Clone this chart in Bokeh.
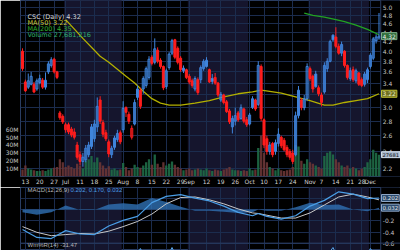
from bokeh.plotting import figure
from bokeh.layouts import column
from bokeh.models import Range1d, LinearScale, LinearAxis, FixedTicker, Label, ColumnDataSource, Span
from bokeh.embed import file_html
from bokeh.resources import INLINE

# ---------------- data ----------------
opens = [4.00, 3.42, 3.33, 3.38, 3.38, 3.30, 3.41, 3.45, 3.33, 3.60, 3.72, 3.84, 3.60,
         2.92, 2.87, 2.68, 2.75, 2.69, 2.65, 2.48, 2.36, 2.28, 2.30, 2.36, 2.46, 2.56, 2.72,
         3.12, 2.78, 2.64, 2.52, 2.36, 2.45, 2.55, 2.64, 2.68, 3.00, 2.90, 2.58, 2.76, 3.16,
         3.28, 3.30, 3.36, 3.50, 3.88, 3.78, 4.02, 3.82, 3.70, 3.34, 3.68, 3.96, 4.24, 4.06,
         3.86, 3.62, 3.64, 3.52, 3.44, 3.30, 3.46, 3.46, 3.66, 3.70, 3.64, 3.48, 3.50, 3.40,
         3.12, 3.20, 3.09, 2.95, 2.72, 2.80, 2.92, 2.84, 2.98, 2.82, 2.76, 3.00, 3.12, 3.05,
         3.70, 2.82, 2.56, 2.40, 2.50, 2.40, 2.50, 2.58, 2.54, 2.45, 2.40, 2.38, 2.36, 2.88,
         3.12, 3.00, 3.14, 3.66, 3.52, 3.56, 3.32, 3.08, 3.25, 3.66, 3.80, 4.34, 4.30, 4.10,
         3.96, 4.00, 3.72, 3.48, 3.64, 3.44, 3.58, 3.46, 3.38, 3.46, 3.70, 3.86, 4.22, 4.28]
highs = [4.06, 3.46, 3.57, 3.60, 3.42, 3.48, 3.55, 3.49, 3.59, 3.80, 3.88, 3.87, 3.62,
         2.95, 2.90, 2.78, 2.78, 2.72, 2.70, 2.52, 2.40, 2.38, 2.48, 2.52, 2.76, 2.82, 3.16,
         3.18, 2.82, 2.68, 2.55, 2.47, 2.60, 2.68, 2.67, 3.10, 3.02, 2.94, 2.74, 3.13, 3.36,
         3.32, 3.52, 3.70, 3.90, 3.92, 4.27, 4.08, 3.86, 3.72, 3.66, 3.98, 4.26, 4.26, 4.10,
         3.90, 3.72, 3.66, 3.56, 3.48, 3.52, 3.50, 3.72, 3.84, 3.88, 3.66, 3.56, 3.58, 3.42,
         3.25, 3.22, 3.12, 2.98, 2.88, 3.00, 2.95, 3.05, 3.00, 2.86, 2.92, 3.18, 3.14, 3.80,
         3.74, 2.84, 2.60, 2.52, 2.52, 2.55, 2.70, 2.60, 2.57, 2.48, 2.43, 2.42, 2.94, 3.35,
         3.15, 3.20, 3.76, 3.70, 3.55, 3.62, 3.36, 3.24, 3.78, 3.86, 4.24, 4.36, 4.52, 4.16,
         4.20, 4.02, 3.74, 3.68, 3.70, 3.66, 3.60, 3.50, 3.60, 3.68, 3.96, 4.30, 4.36, 4.86]
lows = [3.62, 3.25, 3.30, 3.36, 3.23, 3.27, 3.38, 3.30, 3.29, 3.56, 3.68, 3.57, 3.47,
        2.82, 2.76, 2.64, 2.62, 2.58, 2.55, 2.30, 2.24, 2.22, 2.27, 2.33, 2.43, 2.52, 2.65,
        2.76, 2.58, 2.53, 2.33, 2.32, 2.42, 2.52, 2.49, 2.64, 2.86, 2.76, 2.55, 2.74, 3.12,
        2.98, 3.22, 3.32, 3.46, 3.72, 3.74, 3.76, 3.66, 3.28, 3.30, 3.64, 3.92, 3.84, 3.74,
        3.60, 3.58, 3.47, 3.38, 3.32, 3.26, 3.20, 3.40, 3.62, 3.68, 3.40, 3.38, 3.37, 3.17,
        3.09, 3.05, 2.92, 2.76, 2.63, 2.74, 2.79, 2.82, 2.77, 2.72, 2.74, 2.98, 2.95, 3.02,
        2.80, 2.44, 2.36, 2.36, 2.33, 2.36, 2.46, 2.44, 2.40, 2.33, 2.30, 2.25, 2.34, 2.84,
        2.96, 2.96, 3.10, 3.44, 3.24, 3.32, 3.18, 3.02, 3.22, 3.60, 3.78, 4.20, 4.06, 3.93,
        3.90, 3.68, 3.46, 3.44, 3.42, 3.40, 3.35, 3.33, 3.34, 3.40, 3.66, 3.82, 4.16, 4.24]
closes = [3.66, 3.27, 3.44, 3.52, 3.25, 3.44, 3.48, 3.33, 3.45, 3.75, 3.83, 3.60, 3.50,
          2.85, 2.79, 2.75, 2.65, 2.61, 2.58, 2.33, 2.28, 2.33, 2.44, 2.48, 2.72, 2.76, 3.02,
          2.80, 2.62, 2.56, 2.37, 2.44, 2.57, 2.63, 2.52, 2.99, 2.93, 2.80, 2.70, 3.08, 3.30,
          3.02, 3.48, 3.66, 3.84, 3.76, 4.05, 3.80, 3.70, 3.32, 3.62, 3.94, 4.22, 3.88, 3.78,
          3.64, 3.67, 3.50, 3.42, 3.36, 3.48, 3.24, 3.68, 3.80, 3.82, 3.42, 3.43, 3.40, 3.20,
          3.21, 3.08, 2.94, 2.79, 2.84, 2.88, 2.82, 3.00, 2.80, 2.75, 2.89, 3.14, 2.98, 3.72,
          2.84, 2.48, 2.40, 2.48, 2.36, 2.51, 2.62, 2.47, 2.42, 2.36, 2.33, 2.28, 2.88, 3.28,
          3.00, 3.14, 3.70, 3.48, 3.30, 3.34, 3.22, 3.20, 3.72, 3.80, 4.20, 4.24, 4.10, 3.96,
          4.14, 3.72, 3.50, 3.62, 3.46, 3.62, 3.38, 3.36, 3.56, 3.64, 3.92, 4.26, 4.30, 4.32]
volumes_m = [9, 14, 10, 9, 8, 7, 7, 8, 7, 9, 10, 11, 12,
             22, 18, 12, 14, 12, 10, 16, 14, 10, 20, 22, 26, 18, 24,
             18, 14, 10, 13, 9, 10, 8, 9, 17, 12, 8, 10, 15, 12,
             11, 14, 18, 22, 15, 28, 16, 12, 18, 14, 16, 19, 15, 12, 10, 8, 9, 10, 8, 9,
             10, 9, 8, 10, 8, 7, 9, 8, 7, 9, 10, 12, 9, 8, 8, 7, 8, 7, 10, 8, 9,
             36, 52, 30, 18, 12, 10, 8, 10, 8, 7, 8, 9, 12, 40, 38, 20, 16, 22,
             18, 16, 14, 12, 10, 26, 30, 32, 28, 22, 18, 14, 12, 14, 10, 12, 10, 8, 10, 12,
             18, 22, 34, 30, 27.681216]

ma50_i = [15, 21, 27, 30, 33, 36, 39, 42, 45, 48, 51, 55, 60, 65, 70, 75, 80, 83, 86,
          90, 95, 100, 105, 108, 112, 116, 120, 124]
ma50_v = [4.70, 4.27, 3.90, 3.78, 3.65, 3.52, 3.40, 3.26, 3.14, 3.07, 3.04, 3.04, 3.07,
          3.11, 3.17, 3.22, 3.25, 3.28, 3.26, 3.23, 3.17, 3.11, 3.04, 3.04, 3.08, 3.11,
          3.14, 3.22]
ma200_i = [98, 101, 105, 109, 112, 116, 120, 124]
ma200_v = [4.86, 4.80, 4.76, 4.70, 4.65, 4.57, 4.47, 4.35]

macd_i = [0, 5, 10, 15, 20, 25, 30, 35, 40, 45, 50, 55, 60, 65, 70, 75, 80, 82, 85,
          90, 95, 100, 105, 110, 115, 120, 124]
macd_v = [-0.35, -0.49, -0.51, -0.37, -0.43, -0.44, -0.29, -0.19, -0.12, 0.12, 0.23,
          0.26, 0.20, 0.15, 0.06, -0.05, -0.11, -0.07, -0.12, -0.17, -0.11, 0.06, 0.16,
          0.31, 0.27, 0.19, 0.202]
signal_v = [-0.30, -0.40, -0.46, -0.44, -0.42, -0.43, -0.38, -0.30, -0.21, -0.08, 0.10,
            0.21, 0.22, 0.17, 0.10, 0.01, -0.06, -0.07, -0.10, -0.15, -0.15, -0.06, 0.08,
            0.22, 0.27, 0.22, 0.170]

wr_i = [0, 6, 12, 20, 30, 36, 39, 41, 43, 47, 50, 52, 54, 58, 70, 82, 90, 100, 105,
        108, 110, 114, 118, 121, 124]
wr_v = [-60, -70, -50, -90, -80, -60, -30, -8, -30, -40, -30, -6, -30, -70, -90, -40,
        -80, -50, -30, -6, -30, -70, -60, -8, -31.47]

tick_idx = [1, 6, 11, 15, 20, 25, 30, 35, 40, 45, 50, 55, 58, 64, 69, 74, 79, 84, 89,
            94, 100, 104, 109, 114, 118, 121]
tick_labels = ["13", "20", "27", "Jul", "11", "18", "25", "Aug", "8", "15", "22", "29",
               "Sep", "12", "19", "26", "Oct", "10", "17", "24", "Nov", "7", "14", "21",
               "28", "Dec"]
price_ticks = [2.2, 2.4, 2.6, 2.8, 3.0, 3.2, 3.4, 3.6, 3.8, 4.0, 4.2, 4.4, 4.6, 4.8, 5.0]
price_tick_labels = ["2.2", "2.4", "2.6", "2.8", "3.0", "3.2", "3.4", "3.6", "3.8",
                     "4.0", "4.2", "4.4", "4.6", "4.8", "5.0"]
vol_ticks_m = [10, 20, 30, 40, 50, 60]
macd_ticks = [-0.6, -0.4, -0.2]
macd_tick_labels = ["-0.6", "-0.4", "-0.2"]
macd_grid = [-0.6, -0.4, -0.2, 0.0, 0.2]
band_start = [14.5, 57.5, 99.5]
band_end = [34.5, 78.5, 120.5]

# ---------------- styling ----------------
BG = "#000000"
BAND = "#15152d"
GRID = "#1b2c4e"
OUTLINE = "#2a3d62"
BLUE = "#3f84dc"
BLUE_FILL = "#4d93e6"
RED = "#ff1d1d"
TXT = "#c4c4c4"
FONT = "DejaVu Sans"
FONT2 = "Liberation Sans"
FS = "6px"
X_END = 124.6          # right edge of the data area (axis line sits here)

xr = Range1d(-0.7, 131.48)
date_ticker = FixedTicker(ticks=tick_idx)


def base_style(f):
    f.background_fill_color = BG
    f.border_fill_color = BG
    f.outline_line_color = OUTLINE
    f.xgrid.ticker = date_ticker
    f.xgrid.grid_line_color = GRID
    f.ygrid.grid_line_color = GRID


def axis_style(ax):
    ax.axis_line_color = None
    ax.major_tick_line_color = None
    ax.minor_tick_line_color = None
    ax.major_tick_out = 0
    ax.major_tick_in = 0
    ax.minor_tick_out = 0
    ax.minor_tick_in = 0
    ax.major_label_text_color = TXT
    ax.major_label_text_font = FONT
    ax.major_label_text_font_size = FS
    ax.major_label_standoff = 2


def right_strip(f, top, bottom):
    # black strip right of the data area that holds the value labels
    f.quad(left=X_END, right=X_END + 20, top=top, bottom=bottom, fill_color=BG,
           line_color=None)
    f.add_layout(Span(location=X_END, dimension="height", line_color=OUTLINE,
                      line_width=1))


def legend(f, x, y, text, color, size="6.5px", font=FONT):
    f.add_layout(Label(x=x, y=y, x_units="screen", y_units="screen", text=text,
                       text_color=color, text_font=font, text_font_size=size,
                       text_baseline="middle"))


def tag(f, y, text, fill, tcolor, border, y_range_name="default", size=FS):
    f.add_layout(Label(x=361, y=y, x_units="screen", y_units="data", text=text,
                       y_range_name=y_range_name,
                       text_color=tcolor, text_font=FONT, text_font_size=size,
                       text_baseline="middle", background_fill_color=fill,
                       border_line_color=border, padding=1))


# ---------------- main price panel ----------------
n = len(closes)
xs = list(range(n))
colors, fills, alphas, vcolors, btop, bbot = [], [], [], [], [], []
for i in range(n):
    prev = closes[i - 1] if i > 0 else opens[i]
    up = closes[i] >= prev
    c = BLUE if up else RED
    colors.append(c)
    hollow = closes[i] > opens[i]
    fills.append(BLUE_FILL if up else RED)
    alphas.append(0.0 if hollow else 1.0)
    vcolors.append("#1f6d47" if up else "#6a3535")
    btop.append(max(opens[i], closes[i]))
    bbot.append(min(opens[i], closes[i]))

src = ColumnDataSource(dict(x=xs, o=opens, h=highs, l=lows, c=closes, top=btop,
                            bot=bbot, color=colors, fill=fills, alpha=alphas,
                            vol=[v * 1e6 for v in volumes_m], vcolor=vcolors))

p = figure(width=400, height=187, x_range=xr, y_range=Range1d(2.112, 5.18),
           y_axis_type="log", y_axis_location="right", output_backend="svg",
           toolbar_location=None, min_border_left=20, min_border_right=0,
           min_border_top=0, min_border_bottom=10)
base_style(p)
yax = p.yaxis[0]
yax.ticker = FixedTicker(ticks=price_ticks)
yax.major_label_overrides = dict(zip(price_ticks, price_tick_labels))
yax.fixed_location = X_END
p.ygrid.ticker = FixedTicker(ticks=price_ticks)
xax = p.xaxis[0]
xax.ticker = date_ticker
xax.major_label_overrides = dict(zip(tick_idx, tick_labels))
axis_style(xax)
axis_style(yax)
xax.major_label_standoff = 1
xax.major_label_text_color = "#d0d0d0"

p.extra_y_ranges = {"vol": Range1d(0, 223e6)}
p.extra_y_scales = {"vol": LinearScale()}
vax = LinearAxis(y_range_name="vol", ticker=FixedTicker(ticks=[v * 1e6 for v in vol_ticks_m]),
                 major_label_overrides={v * 1e6: f"{v}M" for v in vol_ticks_m})
axis_style(vax)
p.add_layout(vax, "left")

p.quad(left=band_start, right=band_end, top=100, bottom=0.01, fill_color=BAND,
       line_color=None, level="image")
right_strip(p, 100, 0.01)

p.vbar(x="x", width=0.8, top="vol", bottom=0, y_range_name="vol", source=src,
       fill_color="vcolor", line_color=None, fill_alpha=0.9)
p.line(ma50_i, ma50_v, line_color="#b3b000", line_width=1.3)
p.line(ma200_i, ma200_v, line_color="#22a322", line_width=1.3)
p.segment(x0="x", y0="l", x1="x", y1="h", line_color="color", line_width=1, source=src)
p.vbar(x="x", width=0.7, top="top", bottom="bot", fill_color="fill", fill_alpha="alpha",
       line_color="color", line_width=1, source=src)

legend(p, 7, 160, "CSC (Daily) 4.32", "#d6d6d6")
legend(p, 7, 154, "MA(50) 3.22", "#c8c83a")
legend(p, 7, 148, "MA(200) 4.35", "#2fae2f")
legend(p, 7, 142, "Volume 27,681,216", "#2fb06c")

tag(p, 4.32, "4.32", "#2f6e3a", "#ececec", "#7fae8a")
tag(p, 3.22, "3.22", "#6f6f22", "#f0f0c0", "#c0c032")
tag(p, 27.681216e6, "27681", "#a8b8cc", "#151515", "#d0dcea", y_range_name="vol",
    size="5.2px")

# ---------------- MACD + Williams %R panel ----------------
hist_v = [a - b for a, b in zip(macd_v, signal_v)]
m = figure(width=400, height=63, x_range=xr, y_range=Range1d(-0.719, 0.386),
           y_axis_location="right", x_axis_location=None, output_backend="svg",
           toolbar_location=None, min_border_left=20, min_border_right=0,
           min_border_top=0, min_border_bottom=0)
base_style(m)
max_ = m.yaxis[0]
max_.ticker = FixedTicker(ticks=macd_ticks)
max_.major_label_overrides = dict(zip(macd_ticks, macd_tick_labels))
max_.fixed_location = X_END
axis_style(max_)
m.ygrid.ticker = FixedTicker(ticks=macd_grid)
m.extra_y_ranges = {"wr": Range1d(-12, 114)}
m.extra_y_scales = {"wr": LinearScale()}

m.quad(left=band_start, right=band_end, top=10, bottom=-10, fill_color=BAND,
       line_color=None, level="image")
right_strip(m, 10, -10)
m.add_layout(Span(location=-0.59, dimension="width", line_color=OUTLINE, line_width=1))

m.varea(x=macd_i, y1=0, y2=hist_v, fill_color="#2f70b4", fill_alpha=0.8)
m.line(macd_i, signal_v, line_color="#c8c8c8", line_width=1)
m.line(macd_i, macd_v, line_color="#4a9ee6", line_width=1.2)
m.line(wr_i, wr_v, y_range_name="wr", line_color="#5aa6ea", line_width=1)

legend(m, 7, 60.5, "MACD(12,26,9)", "#b8b8b8", "6px", FONT2)
legend(m, 50, 60.5, "0.202, 0.170, 0.032", "#4a9ee6", "6px", FONT2)
legend(m, 7, 5.5, "Wm%R(14) -31.47", "#b8b8b8", "6px", FONT2)
tag(m, 0.202, "0.202", "#2a4a6e", "#e8e8e8", "#8fa8c8", size="5.5px")
tag(m, 0.032, "0.032", "#2a4a6e", "#e8e8e8", "#8fa8c8", size="5.5px")

layout = column(p, m, spacing=0)
open("out.html", "w").write(file_html(layout, INLINE))
